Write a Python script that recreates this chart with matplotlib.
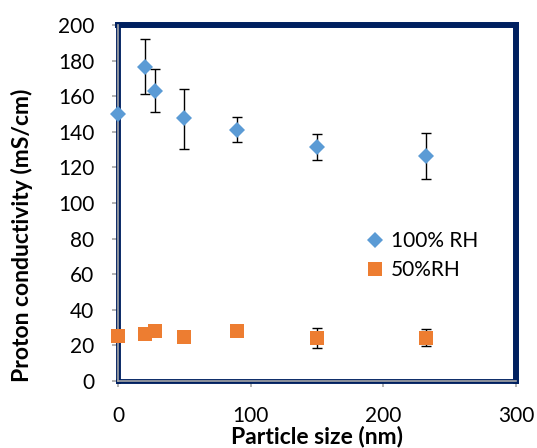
import matplotlib
matplotlib.use('Agg')
import matplotlib.pyplot as plt

plt.rcParams['font.family'] = ['Lato', 'DejaVu Sans']

# Data
size_nm = [0, 20, 28, 50, 90, 150, 232]

rh100 = [150, 176.5, 163, 147.5, 141, 131.5, 126.5]
rh100_lo = [0, 15.5, 12, 17, 7, 7.5, 13.3]
rh100_hi = [0, 15.5, 12.3, 16.7, 7.5, 7.3, 12.9]

rh50 = [25, 26.5, 28, 24.5, 28, 24, 24.3]
rh50_err = [0, 0, 0, 0, 0, 5.5, 4.8]

blue = '#5B9BD5'
orange = '#ED7D31'
navy = '#002060'
gray = '#A6A6A6'

fig = plt.figure(figsize=(5.37, 4.48), dpi=100)
ax = fig.add_axes([0.2197, 0.1496, 0.7412, 0.7946])

# error bars first (black, with caps), markers on top
ax.errorbar(size_nm, rh100, yerr=[rh100_lo, rh100_hi], fmt='none',
            ecolor='black', elinewidth=1, capsize=3.6, capthick=1, zorder=5)
ax.errorbar(size_nm, rh50, yerr=rh50_err, fmt='none',
            ecolor='black', elinewidth=1, capsize=3.6, capthick=1, zorder=5)

ax.plot(size_nm, rh100, 'D', color=blue, markersize=8.3, markeredgewidth=0,
        label='100% RH', zorder=6, clip_on=False)
ax.plot(size_nm, rh50, 's', color=orange, markersize=10, markeredgewidth=0,
        label='50%RH', zorder=6, clip_on=False)

ax.set_xlim(0, 300)
ax.set_ylim(0, 200)
ax.set_xticks([0, 100, 200, 300])
ax.set_yticks(range(0, 201, 20))

for side in ['top', 'right']:
    ax.spines[side].set_color(navy)
    ax.spines[side].set_linewidth(4.3)
for side in ['left', 'bottom']:
    ax.spines[side].set_color(navy)
    ax.spines[side].set_linewidth(3.5)

# gray axis lines on top of the frame
ax.axhline(0, color=gray, lw=1.2, zorder=4, clip_on=False)
ax.axvline(0, color=gray, lw=1.2, zorder=4, clip_on=False)

ax.tick_params(direction='out', length=4, width=1.2, color=gray,
               labelsize=15)
ax.tick_params(axis='y', pad=13)
ax.tick_params(axis='x', pad=14)

ax.set_xlabel('Particle size (nm)', fontsize=16.5, fontweight='bold', labelpad=0)
ax.set_ylabel('Proton conductivity (mS/cm)', fontsize=16.5, fontweight='bold')
ax.yaxis.set_label_coords(-0.213, 0.41)

ax.legend(loc='upper left', bbox_to_anchor=(0.62, 0.42),
          frameon=False, fontsize=15, handlelength=1, handletextpad=0.25,
          borderpad=0, borderaxespad=0, labelspacing=0.4)

fig.savefig('out.png', dpi=100)
